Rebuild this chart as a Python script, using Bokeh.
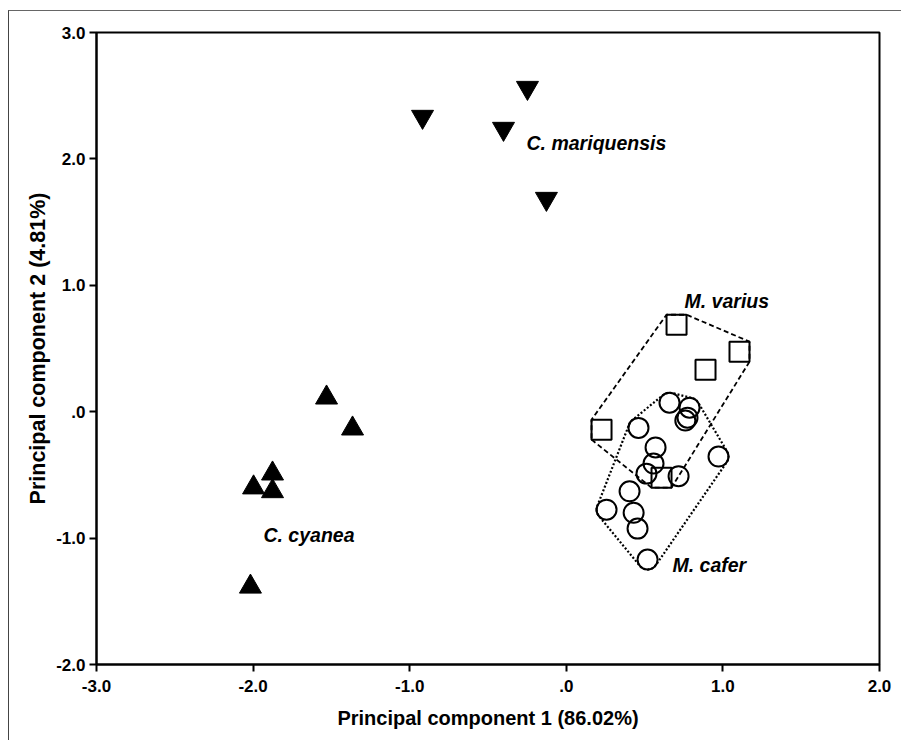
import numpy as np
from bokeh.plotting import figure
from bokeh.models import CustomJSTickFormatter, FixedTicker, Label, Range1d
from bokeh.embed import file_html
from bokeh.resources import INLINE

# ---- data ----
mariq_x = [-0.248, -0.918, -0.401, -0.127]
mariq_y = [2.563, 2.334, 2.239, 1.685]

cyan_x = [-1.531, -1.365, -1.876, -1.997, -1.876, -2.017]
cyan_y = [0.111, -0.134, -0.490, -0.600, -0.630, -1.385]

varius_x = [0.704, 1.106, 0.889, 0.225, 0.608]
varius_y = [0.688, 0.475, 0.332, -0.142, -0.522]

cafer_x = [0.659, 0.787, 0.774, 0.760, 0.461, 0.570, 0.557, 0.512, 0.717, 0.972,
           0.404, 0.257, 0.430, 0.455, 0.519]
cafer_y = [0.071, 0.032, -0.047, -0.070, -0.128, -0.283, -0.410, -0.490, -0.510, -0.355,
           -0.630, -0.775, -0.800, -0.925, -1.170]

x_ticks = [-3, -2, -1, 0, 1, 2]
y_ticks = [-2, -1, 0, 1, 2, 3]

group_labels = ["C. mariquensis", "C. cyanea", "M. varius", "M. cafer"]
label_x = [-0.254, -1.934, 0.755, 0.678]
label_y = [2.128, -0.973, 0.878, -1.210]

# ---- figure ----
W, H = 893, 730
ML, MT, MR, MB = 87, 21, 23, 77
p = figure(width=W, height=H, output_backend="svg", toolbar_location=None,
           x_range=Range1d(-3, 2), y_range=Range1d(-2, 3),
           min_border_left=ML, min_border_top=MT, min_border_right=MR, min_border_bottom=MB)
p.styles = {"margin-left": "8px", "margin-top": "10px",
            "border-top": "1px solid #666", "border-left": "1px solid #444"}
p.grid.visible = False
p.outline_line_color = "black"
p.outline_line_width = 2
p.background_fill_color = "white"
p.border_fill_color = "white"

fmt = CustomJSTickFormatter(code="""
if (Math.abs(tick) < 1e-9) return '.0';
return tick.toFixed(1);
""")
for ax, ticks in ((p.xaxis[0], x_ticks), (p.yaxis[0], y_ticks)):
    ax.ticker = FixedTicker(ticks=ticks)
    ax.formatter = fmt
    ax.minor_tick_line_color = None
    ax.major_tick_in = 0
    ax.major_tick_out = 7
    ax.major_tick_line_width = 2
    ax.axis_line_width = 2
    ax.major_label_text_font = "Liberation Sans"
    ax.major_label_text_font_style = "bold"
    ax.major_label_text_font_size = "17px"
    ax.major_label_text_color = "black"
    ax.axis_label_text_font = "Liberation Sans"
    ax.axis_label_text_font_style = "bold"
    ax.axis_label_text_font_size = "20px"
    ax.axis_label_text_color = "black"

p.xaxis.axis_label = "Principal component 1 (86.02%)"
p.yaxis.axis_label = "Principal component 2 (4.81%)"
p.yaxis.axis_label_text_font_size = "21.5px"
p.xaxis.major_label_standoff = 8
p.yaxis.major_label_standoff = 4
p.xaxis.axis_label_standoff = 12
p.yaxis.axis_label_standoff = 3

# ---- hulls around marker extents ----
fw = W - ML - MR
fh = H - MT - MB
px_x = 5.0 / fw   # data units per pixel
px_y = 5.0 / fh
R = 10  # marker half size in px


def hull(pts):
    pts = sorted(set(pts))
    def cross(o, a, b):
        return (a[0]-o[0])*(b[1]-o[1]) - (a[1]-o[1])*(b[0]-o[0])
    lower, upper = [], []
    for q in pts:
        while len(lower) >= 2 and cross(lower[-2], lower[-1], q) <= 0:
            lower.pop()
        lower.append(q)
    for q in reversed(pts):
        while len(upper) >= 2 and cross(upper[-2], upper[-1], q) <= 0:
            upper.pop()
        upper.append(q)
    h = lower[:-1] + upper[:-1]
    return h + [h[0]]


sq_pts = []
for x, y in zip(varius_x, varius_y):
    for dx in (-1, 1):
        for dy in (-1, 1):
            sq_pts.append((x + dx*R*px_x, y + dy*R*px_y))
h1 = hull(sq_pts)

ang = np.linspace(0, 2*np.pi, 24, endpoint=False)
ci_pts = []
for x, y in zip(cafer_x, cafer_y):
    for a in ang:
        ci_pts.append((x + np.cos(a)*R*px_x, y + np.sin(a)*R*px_y))
h2 = hull(ci_pts)

p.line([q[0] for q in h1], [q[1] for q in h1], line_color="black", line_width=1.8,
       line_dash="5 3")
p.line([q[0] for q in h2], [q[1] for q in h2], line_color="black", line_width=2.2,
       line_dash="2 2")

# ---- markers ----
p.scatter(mariq_x, mariq_y, marker="inverted_triangle", size=22,
          fill_color="black", line_color="black")
p.scatter(cyan_x, cyan_y, marker="triangle", size=22,
          fill_color="black", line_color="black")
p.scatter(cafer_x, cafer_y, marker="circle", size=20, fill_alpha=0,
          line_color="black", line_width=2)
p.scatter(varius_x, varius_y, marker="square", size=20, fill_alpha=0,
          line_color="black", line_width=2)

for t, x, y in zip(group_labels, label_x, label_y):
    p.add_layout(Label(x=x, y=y, text=t, text_font="Liberation Sans",
                       text_font_style="bold italic", text_font_size="19.5px",
                       text_color="black", text_baseline="middle", text_align="left"))

open("out.html", "w").write(file_html(p, INLINE))
